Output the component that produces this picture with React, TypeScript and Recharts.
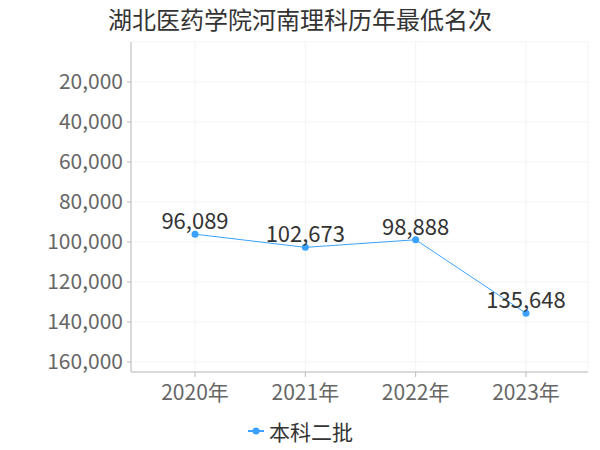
import { LineChart, Line, XAxis, YAxis, CartesianGrid, LabelList } from "recharts";

// 年份与最低名次
const years = ["2020年", "2021年", "2022年", "2023年"];
const ranks = [96089, 102673, 98888, 135648];
const yTicks = [20000, 40000, 60000, 80000, 100000, 120000, 140000, 160000];

const seriesName = "本科二批";
const lineColor = "#3ba1ff";
const font = "'Noto Sans CJK SC', 'Noto Sans', sans-serif";

const data = years.map((year, i) => ({ year, value: ranks[i] }));

const fmt = (v: number) => v.toLocaleString("en-US");

export default function App() {
  return (
    <div
      style={{
        position: "absolute",
        left: 0,
        top: 0,
        width: 600,
        height: 450,
        background: "#fff",
        fontFamily: font,
      }}
    >
      {/* Title */}
      <div
        style={{
          position: "absolute",
          top: 3,
          width: 600,
          textAlign: "center",
          fontSize: 24,
          color: "#333",
          lineHeight: "32px",
        }}
      >
        湖北医药学院河南理科历年最低名次
      </div>

      <LineChart
        width={600}
        height={450}
        data={data}
        margin={{ top: 42, right: 12, bottom: 48, left: 0 }}
      >
        <CartesianGrid stroke="#f3f3f3" />
        <XAxis
          dataKey="year"
          padding={{ left: 64, right: 62 }}
          height={30}
          tickSize={5}
          tickMargin={8}
          axisLine={{ stroke: "#bbb" }}
          tickLine={{ stroke: "#bbb" }}
          tick={{ fill: "#666", fontSize: 21, fontFamily: font }}
        />
        <YAxis
          type="number"
          reversed
          domain={[0, 165000]}
          ticks={yTicks}
          interval={0}
          width={131}
          tickSize={4}
          tickMargin={4}
          tickFormatter={fmt}
          axisLine={{ stroke: "#bbb" }}
          tickLine={{ stroke: "#bbb" }}
          tick={{ fill: "#666", fontSize: 21, fontFamily: font }}
        />
        <Line
          type="linear"
          dataKey="value"
          name={seriesName}
          stroke={lineColor}
          strokeWidth={1}
          dot={{ r: 3.5, fill: lineColor, stroke: lineColor, strokeWidth: 0 }}
          isAnimationActive={false}
        >
          <LabelList
            dataKey="value"
            position="top"
            offset={5}
            formatter={(v: any) => fmt(Number(v))}
            style={{ fill: "#333", fontSize: 22, fontFamily: font }}
          />
        </Line>
      </LineChart>

      {/* Legend */}
      <div
        style={{
          position: "absolute",
          top: 417,
          width: 600,
          display: "flex",
          justifyContent: "center",
          alignItems: "center",
          fontSize: 21,
          color: "#333",
          lineHeight: "28px",
        }}
      >
        <svg width={18} height={10} style={{ marginRight: 4 }}>
          <line x1={1} y1={5} x2={17} y2={5} stroke={lineColor} strokeWidth={2} />
          <circle cx={9} cy={5} r={3.5} fill={lineColor} />
        </svg>
        <span>{seriesName}</span>
      </div>
    </div>
  );
}
